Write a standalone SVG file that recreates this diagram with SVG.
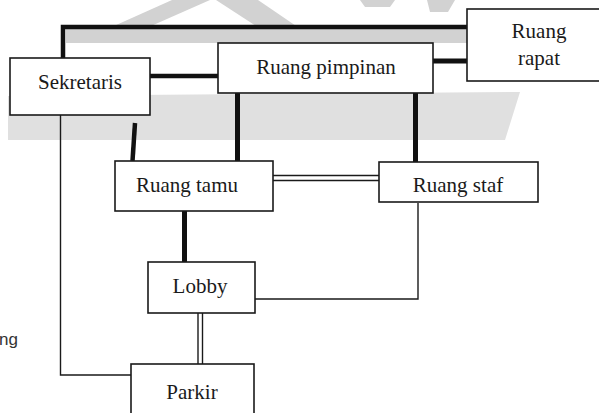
<svg xmlns="http://www.w3.org/2000/svg" width="599" height="413" viewBox="0 0 599 413">
<style>
.box{fill:#fff;stroke:#1a1a1a;stroke-width:1.6}
.lbl{font-family:"Liberation Serif","Times New Roman",serif;font-size:21px;fill:#1a1a1a;text-anchor:middle}
.thick{stroke:#111;stroke-width:4.5;fill:none}
.thin{stroke:#1a1a1a;stroke-width:1.4;fill:none}
.wm{fill:#d2d2d2}
</style>
<rect width="599" height="413" fill="#fff"/>
<g id="watermark">
<polygon class="wm" points="105,30 142,30 210,0 172,0"/>
<polygon class="wm" points="216,0 258,0 302,30 262,30"/>
<rect class="wm" x="66" y="29" width="402" height="14"/>
<polygon class="wm" points="360,0 395,0 390,7 365,7"/>
<polygon class="wm" points="427,0 455,0 448,12 430,12"/>
<polygon fill="#e0e0e0" points="8,96 520,92 505,140 8,140"/>
</g>
<g id="connectors">
<polyline class="thick" points="63,58 63,27 468,27"/>
<line class="thick" x1="150" y1="76" x2="218" y2="76"/>
<line class="thick" x1="433" y1="61" x2="468" y2="61" style="stroke-width:5"/>
<line class="thick" x1="237.5" y1="93" x2="237.5" y2="161" style="stroke-width:5"/>
<line class="thick" x1="415.5" y1="93" x2="415.5" y2="162" style="stroke-width:5"/>
<line class="thick" x1="135" y1="123" x2="132.5" y2="161"/>
<line class="thick" x1="184.5" y1="211" x2="184.5" y2="262" style="stroke-width:5"/>
<polyline class="thin" points="60.5,108 60.5,375 135,375"/>
<polyline class="thin" points="418,203 418,299 246,299"/>
<line class="thin" x1="273" y1="175.5" x2="379" y2="175.5"/>
<line class="thin" x1="273" y1="180.5" x2="379" y2="180.5"/>
<line class="thin" x1="198" y1="313" x2="198" y2="364"/>
<line class="thin" x1="202.5" y1="313" x2="202.5" y2="364"/>
</g>
<g id="sekretaris"><rect class="box" x="10" y="58" width="140" height="57"/><text class="lbl" x="80" y="89">Sekretaris</text></g>
<g id="ruang-pimpinan"><rect class="box" x="218" y="43" width="215" height="50"/><text class="lbl" x="326" y="74">Ruang pimpinan</text></g>
<g id="ruang-rapat"><rect class="box" x="467" y="9" width="136" height="72"/><text class="lbl" x="539" y="38">Ruang</text><text class="lbl" x="539" y="65">rapat</text></g>
<g id="ruang-tamu"><rect class="box" x="115" y="161" width="158" height="50"/><text class="lbl" x="187" y="192">Ruang tamu</text></g>
<g id="ruang-staf"><rect class="box" x="379" y="162" width="159" height="40"/><text class="lbl" x="458" y="192">Ruang staf</text></g>
<g id="lobby"><rect class="box" x="148" y="262" width="107" height="51"/><text class="lbl" x="200" y="293">Lobby</text></g>
<g id="parkir"><rect class="box" x="131" y="364" width="123" height="60"/><text class="lbl" x="192" y="399">Parkir</text></g>
<text x="-1" y="345" style="font-family:'Liberation Sans',Arial,sans-serif;font-size:17px;fill:#333">ng</text>
</svg>
